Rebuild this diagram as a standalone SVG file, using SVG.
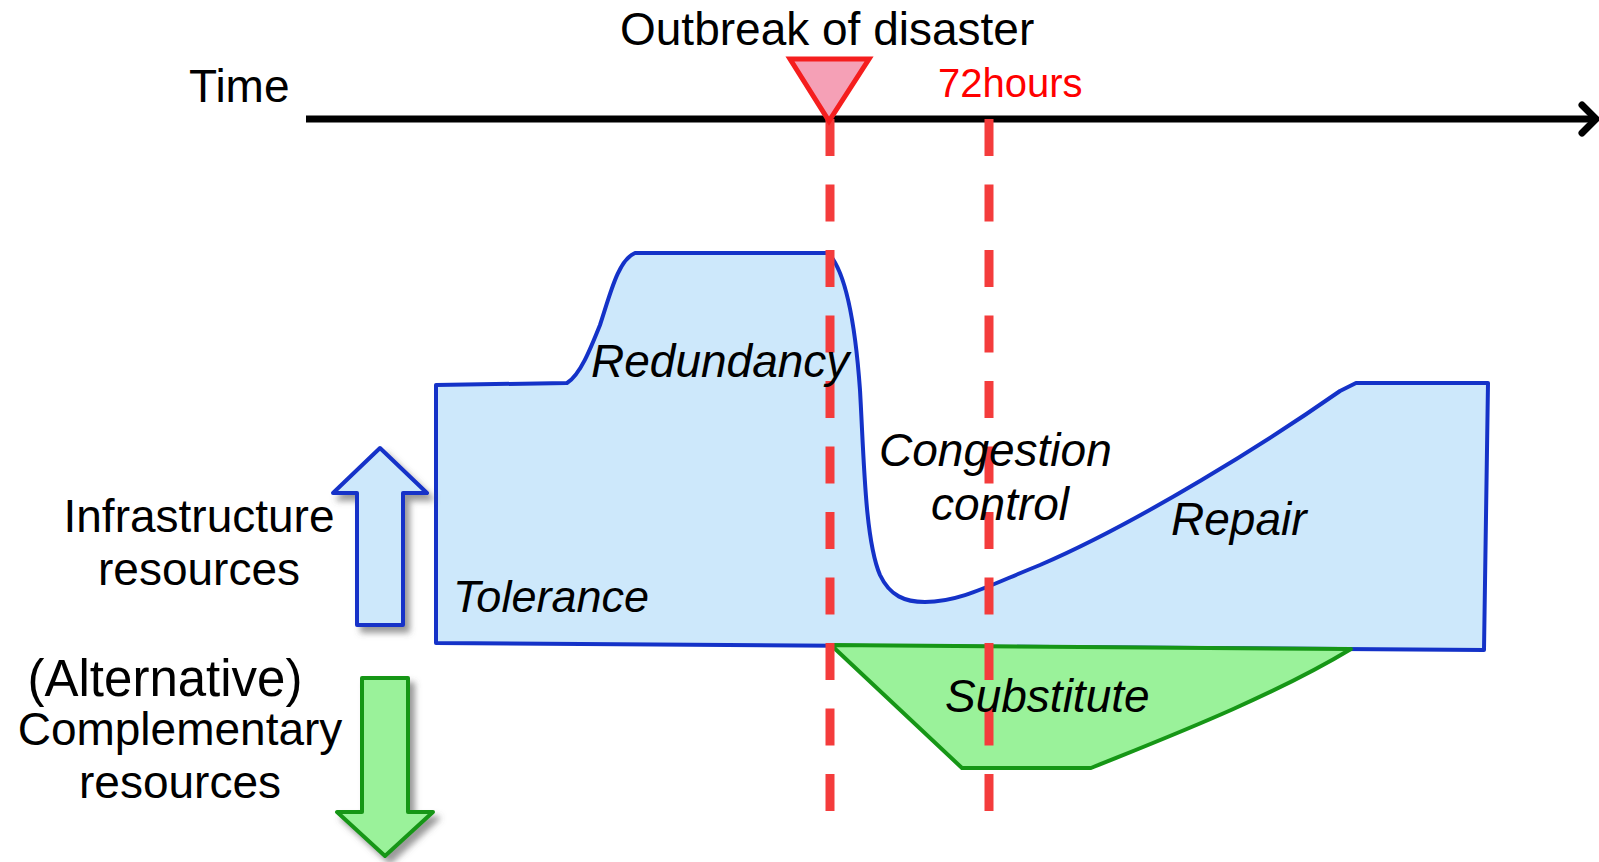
<svg xmlns="http://www.w3.org/2000/svg" width="1599" height="862" viewBox="0 0 1599 862">
<defs>
<style>
.lbl{font-family:"Liberation Sans",Arial,sans-serif;font-size:46px;fill:#000}
.it{font-style:italic}
.blue{fill:#cde8fb;stroke:#1432c8;stroke-width:4;stroke-linejoin:round}
.green{fill:#9af29a;stroke:#169616;stroke-width:4;stroke-linejoin:round}
.dash{stroke:#f43c3c;stroke-width:9;stroke-dasharray:37 28.5;fill:none}
</style>
<filter id="sh" x="-30%" y="-30%" width="170%" height="170%">
<feDropShadow dx="5" dy="6" stdDeviation="3" flood-color="#555" flood-opacity="0.6"/>
</filter>
</defs>
<rect width="1599" height="862" fill="#fff"/>

<g id="axis">
<line x1="306" y1="119" x2="1594" y2="119" stroke="#000" stroke-width="7"/>
<polyline points="1582,105 1596,119 1582,133" fill="none" stroke="#000" stroke-width="7" stroke-linecap="round" stroke-linejoin="round"/>
<text class="lbl" x="189" y="102">Time</text>
</g>

<g id="infrastructure-area">
<path class="blue" d="M436,385 L567,383 C580,375 590,350 600,325 C610,295 618,260 635,253 L828,253 C845,270 855,320 860,390 C864,460 865,540 880,575 C890,596 905,602 925,602 C960,602 990,585 1040,565 C1140,522 1270,440 1340,391 L1356,383 L1488,383 L1484,650 L436,643 Z"/>
</g>

<g id="substitute-area">
<path class="green" d="M831,645 L1351,649 C1270,698 1160,740 1091,768 L962,768 Z"/>
</g>

<g id="connectors">
<line class="dash" x1="830" y1="119" x2="830" y2="811"/>
<line class="dash" x1="989" y1="119" x2="989" y2="811"/>
</g>

<g id="outbreak">
<polygon points="790,59 869,59 829,121" fill="#f5a0b6" stroke="#f51e1e" stroke-width="5" stroke-linejoin="miter"/>
<text class="lbl" x="620" y="45">Outbreak of disaster</text>
</g>

<g id="hours72">
<text x="938" y="97" style="font-family:'Liberation Sans',Arial,sans-serif;font-size:40px;fill:#ff0000">72hours</text>
</g>

<g id="infra-arrow">
<polygon class="blue" filter="url(#sh)" points="380,448 427,493 403,493 403,625 357,625 357,493 333,493"/>
</g>

<g id="comp-arrow">
<polygon class="green" filter="url(#sh)" points="362,678 408,678 408,812 433,812 385,856 337,812 362,812"/>
</g>

<g id="labels">
<text class="lbl" x="199" y="532" text-anchor="middle">Infrastructure</text>
<text class="lbl" x="199" y="585" text-anchor="middle">resources</text>
<text class="lbl" x="165" y="696" text-anchor="middle" style="font-size:51px">(Alternative)</text>
<text class="lbl" x="180" y="745" text-anchor="middle">Complementary</text>
<text class="lbl" x="180" y="798" text-anchor="middle">resources</text>
<text class="lbl it" x="591" y="377">Redundancy</text>
<text class="lbl it" x="453" y="612" style="font-size:45px">Tolerance</text>
<text class="lbl it" x="879" y="466">Congestion</text>
<text class="lbl it" x="931" y="520">control</text>
<text class="lbl it" x="1171" y="535">Repair</text>
<text class="lbl it" x="945" y="712">Substitute</text>
</g>
</svg>
